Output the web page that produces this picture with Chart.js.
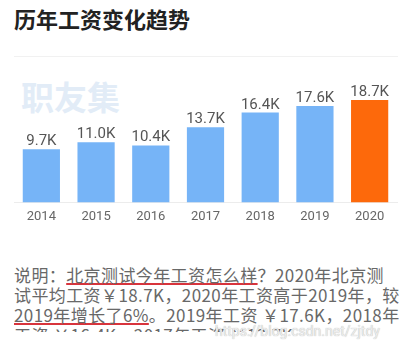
<!DOCTYPE html>
<html lang="zh-CN">
<head>
<meta charset="utf-8">
<title>历年工资变化趋势</title>
<script src="https://cdn.jsdelivr.net/npm/chart.js@4/dist/chart.umd.min.js"></script>
<style>
  html, body {
    margin: 0;
    padding: 0;
    background: #fff;
  }
  body {
    position: relative;
    width: 403px;
    height: 350px;
    overflow: hidden;
    font-family: "Noto Sans CJK SC", "Noto Sans", Roboto, sans-serif;
  }
  .title {
    position: absolute;
    left: 14px;
    top: 2px;
    font-size: 22px;
    font-weight: bold;
    color: #222;
    line-height: 32px;
  }
  .divider {
    position: absolute;
    left: 14px;
    top: 56px;
    width: 384px;
    height: 1px;
    background: #f1f1f1;
  }
  .brand {
    position: absolute;
    left: 21px;
    top: 74px;
    font-size: 33px;
    font-weight: bold;
    color: #e2ecf7;
    line-height: 44px;
  }
  .chart-box {
    position: absolute;
    left: 0;
    top: 60px;
    width: 403px;
    height: 177px;
  }
  .desc {
    position: absolute;
    left: 14px;
    top: 265px;
    width: 389px;
    height: 67px;
    overflow: hidden;
    font-size: 17px;
    letter-spacing: 0.4px;
    line-height: 20px;
    color: #686868;
  }
  .desc div {
    white-space: nowrap;
  }
  .mark {
    text-decoration: underline;
    text-decoration-color: #d8343c;
    text-decoration-thickness: 2px;
    text-underline-offset: 1px;
  }
  .source {
    position: absolute;
    left: 215px;
    top: 323px;
    font-family: Roboto, sans-serif;
    font-size: 14px;
    color: #ededed;
    text-shadow: 0 0 1px #a8a8a8;
  }
</style>
</head>
<body>
<div class="title">历年工资变化趋势</div>
<div class="divider"></div>
<div class="brand">职友集</div>
<div class="chart-box"><canvas id="salaryChart"></canvas></div>
<div class="desc">
  <div>说明：<span class="mark">北京测试今年工资怎么样</span>？2020年北京测</div>
  <div>试平均工资￥18.7K，2020年工资高于2019年，较</div>
  <div><span class="mark">2019年增长了6%</span>。2019年工资 ￥17.6K，2018年</div>
  <div>工资 ￥16.4K，2017年工资 ￥13.7K，</div>
</div>
<div class="source">https://blog.csdn.net/zjtdy</div>

<script>
// 历年平均工资（单位：K）
const years = ['2014', '2015', '2016', '2017', '2018', '2019', '2020'];
const salaries = [9.7, 11.0, 10.4, 13.7, 16.4, 17.6, 18.7];
const currentYear = '2020';

const barBlue = '#76b4f7';
const barOrange = '#fd690b';

// 柱顶显示数值
const valueLabels = {
  id: 'valueLabels',
  afterDatasetsDraw(chart) {
    const ctx = chart.ctx;
    const meta = chart.getDatasetMeta(0);
    ctx.save();
    ctx.font = '15px Roboto, "Noto Sans", sans-serif';
    ctx.fillStyle = '#555';
    ctx.textAlign = 'center';
    ctx.textBaseline = 'alphabetic';
    meta.data.forEach((bar, i) => {
      const v = chart.data.datasets[0].data[i];
      ctx.fillText(v.toFixed(1) + 'K', bar.x, bar.y - 4);
    });
    ctx.restore();
  }
};

const ctx = document.getElementById('salaryChart').getContext('2d');
new Chart(ctx, {
  type: 'bar',
  data: {
    labels: years,
    datasets: [{
      data: salaries,
      backgroundColor: years.map(y => y === currentYear ? barOrange : barBlue),
      borderWidth: 0,
      categoryPercentage: 1,
      barPercentage: 0.68
    }]
  },
  options: {
    responsive: true,
    maintainAspectRatio: false,
    animation: false,
    layout: {
      padding: { left: 14, right: 6, top: 0, bottom: 5 }
    },
    plugins: {
      legend: { display: false },
      tooltip: { enabled: false }
    },
    scales: {
      x: {
        grid: { display: false, drawTicks: false },
        border: { display: true, color: '#ececec', width: 1 },
        ticks: {
          color: '#666',
          padding: 7,
          font: { family: 'Roboto', size: 13 }
        }
      },
      y: {
        display: false,
        min: 0,
        max: 26
      }
    }
  },
  plugins: [valueLabels]
});
</script>
</body>
</html>
